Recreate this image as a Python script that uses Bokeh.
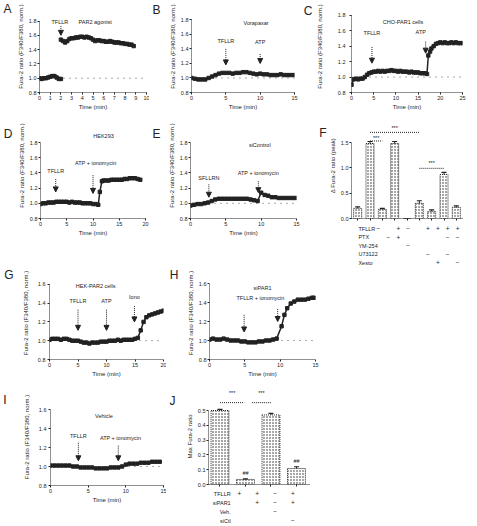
from bokeh.plotting import figure
from bokeh.layouts import row, column
from bokeh.models import (Label, Span, Arrow, NormalHead, Range1d, FixedTicker,
                          NumeralTickFormatter, LinearAxis, CustomJSTickFormatter)
from bokeh.embed import file_html
from bokeh.resources import INLINE

FONT = "Liberation Sans"
INK = "#222222"
TS_TICK = "5.5px"
TS_AXIS = "6px"
TS_TEXT = "5.5px"

# ---------------- data ----------------
XLAB = "Time (min)"
YLAB = "Fura-2 ratio (F340/F380, norm.)"
Y6 = [0.8, 1.0, 1.2, 1.4, 1.6, 1.8]
Y5 = [0.8, 1.0, 1.2, 1.4, 1.6]
BASE = 1.0

# Panel A
A_xticks = [0, 1, 2, 3, 4, 5, 6, 7, 8, 9, 10]
A_base_t = [0.0, 0.2, 0.4, 0.6, 0.8, 1.0, 1.2, 1.4, 1.6, 1.8, 2.0]
A_base_v = [1.00, 0.99, 1.00, 1.00, 1.01, 1.02, 1.03, 1.03, 1.01, 0.99, 0.99]
A_resp_t = [2.0, 2.2, 2.4, 2.6, 2.8, 3.0, 3.2, 3.4, 3.6, 3.8, 4.0, 4.2, 4.4, 4.6, 4.8,
            5.0, 5.2, 5.4, 5.6, 5.8, 6.0, 6.2, 6.4, 6.6, 6.8, 7.0, 7.2, 7.4, 7.6, 7.8,
            8.0, 8.2, 8.4, 8.6, 8.8]
A_resp_v = [1.54, 1.52, 1.50, 1.52, 1.55, 1.56, 1.56, 1.57, 1.57, 1.58, 1.58, 1.57, 1.58,
            1.57, 1.56, 1.54, 1.52, 1.53, 1.53, 1.52, 1.52, 1.51, 1.51, 1.52, 1.51, 1.50,
            1.50, 1.50, 1.49, 1.49, 1.48, 1.48, 1.47, 1.47, 1.45]
A_arrow_t = [2.0]
A_arrow_y0 = [1.73]
A_arrow_y1 = [1.60]
A_text = ["TFLLR", "PAR2 agonist"]
A_text_t = [1.9, 5.2]
A_text_y = [1.785, 1.785]

# Panel B
B_xticks = [0, 5, 10, 15]
B_t = [0, 0.5, 1, 1.5, 2, 2.5, 3, 3.5, 4, 4.5, 5, 5.5, 6, 6.5, 7, 7.5, 8, 8.5, 9, 9.5,
       10, 10.5, 11, 11.5, 12, 12.5, 13, 13.5, 14, 14.5, 15]
B_v = [1.00, 0.99, 0.98, 0.98, 0.98, 1.00, 1.02, 1.04, 1.06, 1.07, 1.07, 1.07, 1.06, 1.07,
       1.07, 1.08, 1.08, 1.07, 1.06, 1.05, 1.06, 1.05, 1.05, 1.04, 1.04, 1.04, 1.05, 1.04,
       1.04, 1.04, 1.04]
B_arrow_t = [5, 10]
B_arrow_y0 = [1.40, 1.33]
B_arrow_y1 = [1.18, 1.20]
B_text = ["TFLLR", "ATP", "Vorapaxar"]
B_text_t = [5, 10, 9.4]
B_text_y = [1.51, 1.49, 1.76]

# Panel C
C_xticks = [0, 5, 10, 15, 20, 25]
C_t = [0, 0.5, 1, 1.5, 2, 2.5, 3, 3.5, 4, 4.5, 5, 5.5, 6, 6.5, 7, 7.5, 8, 8.5, 9, 9.5,
       10, 10.5, 11, 11.5, 12, 12.5, 13, 13.5, 14, 14.5, 15, 15.5, 16, 16.5, 17,
       17.3, 17.7, 18, 18.5, 19, 19.5, 20, 20.5, 21, 21.5, 22, 22.5, 23, 23.5, 24, 24.5, 25]
C_v = [0.90, 0.97, 0.98, 0.97, 0.98, 0.98, 1.00, 1.03, 1.05, 1.06,
       1.07, 1.07, 1.08, 1.07, 1.08, 1.07, 1.08, 1.08, 1.09, 1.08,
       1.08, 1.07, 1.08, 1.07, 1.07, 1.07, 1.06, 1.07, 1.06, 1.06,
       1.06, 1.05, 1.05, 1.05, 1.04,
       1.28, 1.33, 1.37, 1.40, 1.43, 1.44, 1.45, 1.44, 1.45, 1.44, 1.44, 1.45, 1.44, 1.45,
       1.44, 1.44, 1.44]
C_arrow_t = [4.6, 16.7]
C_arrow_y0 = [1.39, 1.46]
C_arrow_y1 = [1.18, 1.31]
C_text = ["TFLLR", "ATP", "CHO-PAR1 cells"]
C_text_t = [4.6, 15.6, 11.6]
C_text_y = [1.57, 1.59, 1.71]

# Panel D
D_xticks = [0, 5, 10, 15, 20]
D_t = [0, 0.5, 1, 1.5, 2, 2.5, 3, 3.5, 4, 4.5, 5, 5.5, 6, 6.5, 7, 7.5, 8, 8.5, 9, 9.5,
       10, 10.5, 11, 11.3, 11.7, 12, 12.5, 13, 13.5, 14, 14.5, 15, 15.5, 16, 16.5, 17,
       17.5, 18, 18.5, 19]
D_v = [0.99, 1.00, 1.00, 1.01, 1.01, 1.01, 1.02, 1.02, 1.02, 1.02, 1.02, 1.01, 1.02, 1.01,
       1.01, 1.01, 1.00, 1.00, 1.00, 1.00, 0.99, 0.99, 0.98, 1.15, 1.29, 1.30, 1.30, 1.30,
       1.31, 1.31, 1.31, 1.31, 1.31, 1.32, 1.32, 1.33, 1.33, 1.33, 1.32, 1.31]
D_arrow_t = [2.9, 10.0]
D_arrow_y0 = [1.32, 1.37]
D_arrow_y1 = [1.15, 1.13]
D_text = ["TFLLR", "ATP + ionomycin", "HEK293"]
D_text_t = [2.9, 10.5, 12.0]
D_text_y = [1.43, 1.53, 1.89]

# Panel E
E_xticks = [0, 5, 10, 15]
E_t = [0, 0.5, 1, 1.5, 2, 2.5, 3, 3.5, 4, 4.5, 5, 5.5, 6, 6.5, 7, 7.5, 8, 8.5, 9, 9.5,
       10, 10.5, 11, 11.5, 12, 12.5, 13, 13.5, 14, 14.5, 15]
E_v = [0.97, 0.98, 0.99, 0.99, 1.00, 1.01, 1.03, 1.05, 1.06, 1.06, 1.06, 1.06, 1.06, 1.06,
       1.06, 1.06, 1.06, 1.05, 1.04, 1.03, 1.14, 1.11, 1.10, 1.08, 1.08, 1.07, 1.07, 1.07,
       1.07, 1.07, 1.07]
E_arrow_t = [2.6, 9.6]
E_arrow_y0 = [1.25, 1.29]
E_arrow_y1 = [1.08, 1.14]
E_text = ["SFLLRN", "ATP + ionomycin", "siControl"]
E_text_t = [2.6, 9.6, 9.8]
E_text_y = [1.33, 1.40, 1.77]

# Panel F (bar chart + treatment table)
F_x = [1, 2, 3, 4, 5, 6, 7, 8, 9]
F_v = [0.20, 1.48, 0.18, 1.48, 0.0, 0.30, 0.14, 0.87, 0.22]
F_err = [0.03, 0.04, 0.02, 0.04, 0.0, 0.05, 0.03, 0.04, 0.03]
F_yticks = [0.0, 0.5, 1.0, 1.5]
F_sig_x0 = [2, 2, 6]
F_sig_x1 = [6, 3, 8]
F_sig_y = [1.70, 1.53, 0.99]
F_sig_ty = [1.78, 1.59, 1.10]
F_rows = ["TFLLR", "PTX", "YM-254", "U73122", "Xesto"]
F_table = [["-", "", "+", "-", "", "+", "+", "+", "+"],
           ["", "-", "+", "", "", "", "", "-", "-"],
           ["", "", "", "-", "", "", "", "", ""],
           ["", "", "", "", "", "-", "", "-", ""],
           ["", "", "", "", "", "", "+", "", "-"]]

# Panel G
G_xticks = [0, 5, 10, 15, 20]
G_t = [0, 0.5, 1, 1.5, 2, 2.5, 3, 3.5, 4, 4.5, 5, 5.5, 6, 6.5, 7, 7.5, 8, 8.5, 9, 9.5,
       10, 10.5, 11, 11.5, 12, 12.5, 13, 13.5, 14, 14.5, 15, 15.5, 16, 16.5, 17, 17.5,
       18, 18.5, 19, 19.5, 20]
G_v = [1.01, 1.02, 1.02, 1.02, 1.01, 1.02, 1.02, 1.01, 1.00, 1.00, 1.00, 0.99, 0.98, 0.98,
       0.97, 0.98, 0.98, 0.98, 0.99, 0.99, 0.99, 1.00, 1.00, 1.00, 1.01, 1.00, 1.01, 1.01,
       1.01, 1.01, 1.02, 1.03, 1.11, 1.20, 1.25, 1.27, 1.28, 1.29, 1.30, 1.31, 1.32]
G_arrow_t = [5, 10, 14.9]
G_arrow_y0 = [1.33, 1.33, 1.37]
G_arrow_y1 = [1.11, 1.11, 1.20]
G_text = ["TFLLR", "ATP", "Iono", "HEK-PAR2 cells"]
G_text_t = [5, 10, 14.9, 8.1]
G_text_y = [1.42, 1.42, 1.47, 1.58]

# Panel H
H_xticks = [0, 5, 10, 15]
H_t = [0, 0.5, 1, 1.5, 2, 2.5, 3, 3.5, 4, 4.5, 5, 5.5, 6, 6.5, 7, 7.5, 8, 8.5, 9, 9.5,
       10.2, 10.6, 11.0, 11.5, 12.0, 12.5, 13.0, 13.5, 14.0, 14.5, 14.8]
H_v = [1.01, 1.02, 1.01, 1.01, 1.02, 1.01, 1.00, 1.00, 1.00, 0.99, 0.99, 0.98, 0.98, 0.98,
       0.99, 0.99, 1.00, 1.00, 1.01, 1.02, 1.15, 1.27, 1.34, 1.39, 1.41, 1.43, 1.43, 1.43,
       1.44, 1.45, 1.45]
H_arrow_t = [4.9, 9.65]
H_arrow_y0 = [1.27, 1.33]
H_arrow_y1 = [1.09, 1.20]
H_text = ["TFLLR + ionomycin", "siPAR1"]
H_text_t = [7.2, 7.5]
H_text_y = [1.45, 1.55]

# Panel I
I_xticks = [0, 5, 10, 15]
I_t = [0, 0.5, 1, 1.5, 2, 2.5, 3, 3.5, 4, 4.5, 5, 5.5, 6, 6.5, 7, 7.5, 8, 8.5, 9, 9.5,
       10, 10.5, 11, 11.5, 12, 12.5, 13, 13.5, 14, 14.5]
I_v = [1.01, 1.01, 1.01, 1.01, 1.01, 1.01, 1.00, 1.00, 0.99, 0.99, 0.99, 0.99, 0.98, 0.98,
       0.98, 0.98, 0.99, 0.99, 0.99, 1.00, 1.02, 1.03, 1.03, 1.03, 1.04, 1.04, 1.04, 1.05,
       1.05, 1.05]
I_arrow_t = [3.7, 9.0]
I_arrow_y0 = [1.25, 1.22]
I_arrow_y1 = [1.06, 1.06]
I_text = ["TFLLR", "ATP + ionomycin", "Vehicle"]
I_text_t = [3.7, 9.3, 7.1]
I_text_y = [1.32, 1.30, 1.53]

# Panel J (bar chart + treatment table)
J_x = [1, 2, 3, 4]
J_v = [0.500, 0.034, 0.470, 0.108]
J_err = [0.008, 0.004, 0.010, 0.012]
J_yticks = [0.0, 0.1, 0.2, 0.3, 0.4, 0.5]
J_sig_x0 = [1.0, 2.25]
J_sig_x1 = [1.95, 3.0]
J_sig_y = [0.553, 0.553]
J_sig_ty = [0.615, 0.615]
J_hash_x = [2, 4]
J_hash_y = [0.081, 0.162]
J_rows = ["TFLLR", "siPAR1", "Veh.", "siCtl"]
J_table = [["+", "+", "-", "+"],
           ["", "+", "-", "+"],
           ["", "", "-", ""],
           ["", "", "", "-"]]


# ---------------- helpers ----------------
def style_axis(ax):
    ax.axis_line_color = INK
    ax.axis_line_width = 1
    ax.axis_line_dash = "1 1"
    ax.major_tick_line_color = INK
    ax.major_tick_out = 2
    ax.major_tick_in = 0
    ax.minor_tick_line_color = None
    ax.major_label_text_font = FONT
    ax.major_label_text_font_size = TS_TICK
    ax.major_label_text_color = INK
    ax.major_label_standoff = 1
    ax.axis_label_text_font = FONT
    ax.axis_label_text_font_size = TS_AXIS
    ax.axis_label_text_font_style = "normal"
    ax.axis_label_text_color = INK
    ax.axis_label_standoff = 1


def make_fig(canvas, frame, xr, yr):
    """canvas/frame: (left, top, right, bottom) in page pixels; the frame's
    xr/yr ends sit on the frame box, the plot area is extended up to the canvas top."""
    cx0, cy0, cx1, cy1 = canvas
    fx0, fy0, fx1, fy1 = frame
    sy = (fy1 - fy0) / (yr[1] - yr[0])
    ytop = yr[1] + (fy0 - cy0) / sy
    p = figure(width=cx1 - cx0, height=cy1 - cy0,
               x_range=Range1d(xr[0], xr[1]), y_range=Range1d(yr[0], ytop),
               output_backend="svg", toolbar_location=None,
               min_border_left=fx0 - cx0, min_border_right=cx1 - fx1,
               min_border_top=0, min_border_bottom=cy1 - fy1)
    p.outline_line_color = None
    p.xgrid.visible = False
    p.ygrid.visible = False
    p.background_fill_color = "white"
    p.border_fill_color = "white"
    for ax in p.axis:
        style_axis(ax)
    p.yaxis.bounds = (yr[0], yr[1])
    return p, sy


def add_letter(p, s, yval, standoff):
    ax = LinearAxis(ticker=FixedTicker(ticks=[yval]),
                    formatter=CustomJSTickFormatter(code="return '%s';" % s))
    ax.axis_line_color = None
    ax.major_tick_line_color = None
    ax.minor_tick_line_color = None
    ax.major_tick_out = 0
    ax.major_tick_in = 0
    ax.major_label_standoff = standoff
    ax.major_label_text_font = FONT
    ax.major_label_text_font_size = "12px"
    ax.major_label_text_color = INK
    p.add_layout(ax, "left")


def txt(p, x, y, s, align="center", baseline="middle", size=TS_TEXT):
    p.add_layout(Label(x=x, y=y, text=s, text_font=FONT, text_font_size=size,
                       text_color=INK, text_align=align, text_baseline=baseline))


def ts_panel(canvas, frame, xticks, yticks, series, arrows, texts, letter,
             letter_y, letter_standoff, baseline=True, tick_standoff=1,
             label_standoff=2):
    p, sy = make_fig(canvas, frame, (xticks[0], xticks[-1]), (yticks[0], yticks[-1]))
    p.xaxis.ticker = FixedTicker(ticks=xticks)
    p.yaxis.ticker = FixedTicker(ticks=yticks)
    p.yaxis.formatter = NumeralTickFormatter(format="0.0")
    p.xaxis.axis_label = XLAB
    p.yaxis.axis_label = YLAB
    p.yaxis.major_label_standoff = tick_standoff
    p.yaxis.axis_label_standoff = label_standoff
    if baseline:
        p.add_layout(Span(location=BASE, dimension="width", line_color="#555555",
                          line_width=1, line_dash="1 5", level="underlay"))
    for t, v in series:
        p.line(t, v, line_color=INK, line_width=1.5)
        p.scatter(t, v, marker="square", size=3.4, fill_color=INK, line_color=INK)
    at, a0, a1 = arrows
    for x, y0, y1 in zip(at, a0, a1):
        p.add_layout(Arrow(end=NormalHead(size=5, fill_color=INK, line_color=INK,
                                          line_width=1),
                           x_start=x, y_start=y0, x_end=x, y_end=y1,
                           line_color=INK, line_width=1, line_dash="1 1"))
    tt, tx, ty = texts
    for s, x, y in zip(tt, tx, ty):
        txt(p, x, y, s)
    yl = yticks[0] + (frame[3] - letter_y) / sy
    add_letter(p, letter, yl, letter_standoff)
    return p


def bar_panel(canvas, frame, xs, vals, errs, xr, yr_ticks, width, sig, ylabel,
              letter, letter_y, letter_standoff):
    p, sy = make_fig(canvas, frame, xr, (yr_ticks[0], yr_ticks[-1]))
    p.xaxis.ticker = FixedTicker(ticks=xs)
    p.xaxis.major_label_overrides = {x: "" for x in xs}
    p.yaxis.ticker = FixedTicker(ticks=yr_ticks)
    p.yaxis.formatter = NumeralTickFormatter(format="0.0")
    p.yaxis.axis_label = ylabel
    p.yaxis.axis_label_standoff = 2
    p.vbar(x=xs, top=vals, width=width, fill_color="white", line_color=INK,
           line_width=1, line_dash="1 1", hatch_pattern="dot", hatch_color=INK,
           hatch_scale=3.0, hatch_weight=1.0)
    hi = [v + e for v, e in zip(vals, errs)]
    p.segment(x0=xs, y0=vals, x1=xs, y1=hi, line_color=INK, line_width=1)
    p.scatter(x=xs, y=hi, marker="dash", size=5, line_color=INK, line_width=1.2)
    x0s, x1s, ys, tys = sig
    p.segment(x0=x0s, y0=ys, x1=x1s, y1=ys, line_color=INK, line_width=1, line_dash="1 1")
    for a, b, ty in zip(x0s, x1s, tys):
        txt(p, (a + b) / 2, ty, "***")
    yl = yr_ticks[0] + (frame[3] - letter_y) / sy
    add_letter(p, letter, yl, letter_standoff)
    return p


def table_fig(canvas, bar_frame, xr, xs, rows, table, first_row_off, row_step,
              row_x, row_align):
    cx0, cy0, cx1, cy1 = canvas
    sx = (bar_frame[2] - bar_frame[0]) / (xr[1] - xr[0])
    x0 = xr[0] - (bar_frame[0] - cx0) / sx
    x1 = xr[1] + (cx1 - bar_frame[2]) / sx
    ytop = 1 - first_row_off / row_step
    ybot = ytop + (cy1 - cy0) / row_step
    p = figure(width=cx1 - cx0, height=cy1 - cy0, x_range=Range1d(x0, x1),
               y_range=Range1d(ybot, ytop), x_axis_type=None, y_axis_type=None,
               output_backend="svg", toolbar_location=None,
               min_border_left=0, min_border_right=0, min_border_top=0,
               min_border_bottom=0)
    p.outline_line_color = None
    p.background_fill_color = "white"
    p.border_fill_color = "white"
    for i, (name, marks) in enumerate(zip(rows, table)):
        r = i + 1
        txt(p, row_x, r, name, align=row_align)
        for x, m in zip(xs, marks):
            if m:
                txt(p, x, r, "+" if m == "+" else "\u2212", size="6.5px")
    return p


# ---------------- panels (page-pixel geometry) ----------------
pA = ts_panel((0, 0, 149, 112), (33, 21, 146, 94), A_xticks, Y6,
              [(A_base_t, A_base_v), (A_resp_t, A_resp_v)],
              (A_arrow_t, A_arrow_y0, A_arrow_y1), (A_text, A_text_t, A_text_y),
              "A", 9, 3)
pB = ts_panel((149, 0, 300, 112), (185, 20, 294, 95), B_xticks, Y6, [(B_t, B_v)],
              (B_arrow_t, B_arrow_y0, B_arrow_y1), (B_text, B_text_t, B_text_y),
              "B", 10, 6)
pC = ts_panel((300, 0, 476, 112), (349, 15, 462, 93), C_xticks, Y6, [(C_t, C_v)],
              (C_arrow_t, C_arrow_y0, C_arrow_y1), (C_text, C_text_t, C_text_y),
              "C", 11, 1, tick_standoff=4, label_standoff=12)
pD = ts_panel((0, 112, 149, 242), (33, 142, 145, 218), D_xticks, Y6, [(D_t, D_v)],
              (D_arrow_t, D_arrow_y0, D_arrow_y1), (D_text, D_text_t, D_text_y),
              "D", 133, 3, baseline=False)
pE = ts_panel((149, 112, 300, 242), (183, 142, 296, 218), E_xticks, Y6, [(E_t, E_v)],
              (E_arrow_t, E_arrow_y0, E_arrow_y1), (E_text, E_text_t, E_text_y),
              "E", 133, 5)
pG = ts_panel((0, 266, 166, 388), (49, 284, 163, 360), G_xticks, Y5, [(G_t, G_v)],
              (G_arrow_t, G_arrow_y0, G_arrow_y1), (G_text, G_text_t, G_text_y),
              "G", 272, 6, tick_standoff=2, label_standoff=6)
pH = ts_panel((166, 266, 322, 388), (201, 283, 315, 359), H_xticks, Y5, [(H_t, H_v)],
              (H_arrow_t, H_arrow_y0, H_arrow_y1), (H_text, H_text_t, H_text_y),
              "H", 272, 6)
pI = ts_panel((0, 388, 166, 524), (49, 409, 163, 485), I_xticks, Y5, [(I_t, I_v)],
              (I_arrow_t, I_arrow_y0, I_arrow_y1), (I_text, I_text_t, I_text_y),
              "I", 399, 14, tick_standoff=2, label_standoff=6)

F_frame = (335, 142, 476, 218)
F_xr = (0.5, 9.5)
pF = bar_panel((300, 112, 476, 224), F_frame, F_x, F_v, F_err, F_xr, F_yticks, 0.65,
               (F_sig_x0, F_sig_x1, F_sig_y, F_sig_ty), "\u0394 Fura-2 ratio (peak)",
               "F", 132, 0)
pFt = table_fig((300, 224, 476, 266), F_frame, F_xr, F_x, F_rows, F_table, 4, 8.5,
                -1.03, "left")

J_frame = (201, 410, 310, 484)
J_xr = (0.55, 4.55)
pJ = bar_panel((166, 388, 322, 490), J_frame, J_x, J_v, J_err, J_xr, J_yticks, 0.7,
               (J_sig_x0, J_sig_x1, J_sig_y, J_sig_ty), "Max Fura-2 ratio",
               "J", 400, 8)
for x, y in zip(J_hash_x, J_hash_y):
    txt(pJ, x, y, "##")
pJt = table_fig((166, 490, 322, 524), J_frame, J_xr, J_x, J_rows, J_table, 3, 9,
                0.51, "right")

top = row(column(row(pA, pB), row(pD, pE)), column(pC, pF, pFt))
bottom = row(column(row(pG, pH), row(pI, column(pJ, pJt))))
layout = column(top, bottom)

open("out.html", "w").write(file_html(layout, INLINE, title="Calcium responses"))
